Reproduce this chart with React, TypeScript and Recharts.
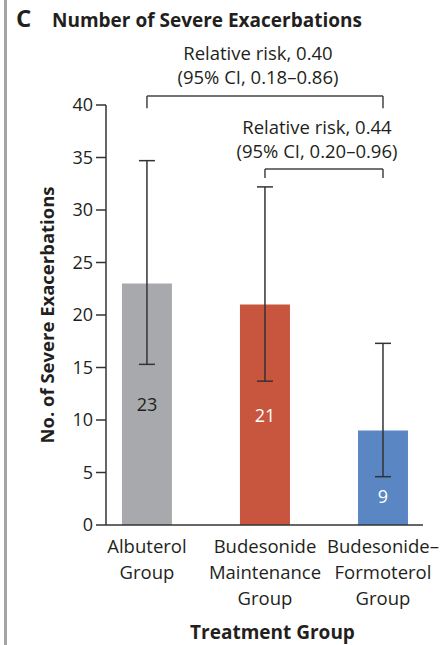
import {
	Bar,
	BarChart,
	Cell,
	ErrorBar,
	LabelList,
	ReferenceLine,
	XAxis,
	YAxis,
} from "recharts";

const groups = [
	["Albuterol", "Group"],
	["Budesonide", "Maintenance", "Group"],
	["Budesonide–", "Formoterol", "Group"],
];
const exacerbations = [23, 21, 9];
const ciLow = [15.3, 13.7, 4.6];
const ciHigh = [34.7, 32.2, 17.3];
const barColors = ["#a7a9ac", "#c8553d", "#5b86c4"];
const labelColors = ["#231f20", "#ffffff", "#ffffff"];
const yTicks = [0, 5, 10, 15, 20, 25, 30, 35, 40];

// comparison brackets: from group, to group, bar height, leg bottom, text
const brackets = [
	{ from: 0, to: 2, top: 40.86, leg: 39.7, text: ["Relative risk, 0.40", "(95% CI, 0.18–0.86)"] },
	{ from: 1, to: 2, top: 33.9, leg: 33.05, text: ["Relative risk, 0.44", "(95% CI, 0.20–0.96)"] },
];

const data = exacerbations.map((v, i) => ({
	idx: i,
	value: v,
	err: [v - ciLow[i], ciHigh[i] - v],
}));

const FONT = "'Open Sans', 'Noto Sans', sans-serif";
const INK = "#231f20";

function GroupTick(props: any) {
	const { x, y, payload } = props;
	const lines = groups[payload.value] || [];
	return (
		<g>
			{lines.map((l, k) => (
				<text
					key={k}
					x={x}
					y={y + 18 + k * 26}
					textAnchor="middle"
					dominantBaseline="central"
					fontSize={18.5}
					fontFamily={FONT}
					fill={INK}
				>
					{l}
				</text>
			))}
		</g>
	);
}

function BarValue(props: any) {
	const { x, y, width, height, index, value } = props;
	const bottom = y + height;
	const perUnit = height / value;
	const lowPx = bottom - ciLow[index] * perUnit;
	let cy = y + height / 2;
	if (lowPx > cy - 12) cy = (lowPx + bottom) / 2 - 5;
	return (
		<text
			x={x + width / 2}
			y={cy}
			textAnchor="middle"
			dominantBaseline="central"
			fontSize={18}
			fontFamily={FONT}
			fill={labelColors[index]}
		>
			{value}
		</text>
	);
}

function bracketLabel(lines: string[]) {
	return (props: any) => {
		const vb = props.viewBox || {};
		const cx = vb.x + vb.width / 2 - 7;
		return (
			<g>
				<text x={cx} y={vb.y - 43} textAnchor="middle" dominantBaseline="central" fontSize={18.5} fontFamily={FONT} fill={INK}>
					{lines[0]}
				</text>
				<text x={cx} y={vb.y - 19} textAnchor="middle" dominantBaseline="central" fontSize={18.5} fontFamily={FONT} fill={INK}>
					{lines[1]}
				</text>
			</g>
		);
	};
}

export default function App() {
	return (
		<div
			style={{
				position: "fixed",
				top: 0,
				left: 0,
				width: 441,
				height: 645,
				background: "#fff",
				fontFamily: FONT,
				color: INK,
			}}
		>
			<div style={{ position: "absolute", left: 4, top: 0, width: 3, height: 645, background: "#a3a3a3" }} />
			<div style={{ position: "absolute", left: 16, top: 3, fontSize: 24, fontWeight: 700, lineHeight: "30px" }}>C</div>
			<div style={{ position: "absolute", left: 52, top: 6, fontSize: 19, fontWeight: 700, lineHeight: "28px" }}>
				Number of Severe Exacerbations
			</div>
			<div style={{ position: "absolute", left: 0, top: 0 }}>
				<BarChart
					width={441}
					height={645}
					data={data}
					margin={{ top: 105, right: 18, bottom: 0, left: 0 }}
				>
					<XAxis
						type="number"
						dataKey="idx"
						domain={[-0.347, 2.339]}
						ticks={[0, 1, 2]}
						tick={<GroupTick />}
						tickLine={false}
						tickSize={0}
						height={120}
						axisLine={{ stroke: "#333", strokeWidth: 1.5 }}
						interval={0}
						label={(p: any) => {
							const vb = p.viewBox;
							return (
								<text
									x={vb.x + vb.width / 2 + 8}
									y={vb.y + 107}
									textAnchor="middle"
									dominantBaseline="central"
									fontSize={19}
									fontWeight={700}
									fontFamily={FONT}
									fill={INK}
								>
									Treatment Group
								</text>
							);
						}}
					/>
					<YAxis
						domain={[0, 40]}
						ticks={yTicks}
						width={106}
						tickSize={10}
						tickMargin={3}
						interval={0}
						axisLine={{ stroke: "#333", strokeWidth: 1.5 }}
						tickLine={{ stroke: "#333", strokeWidth: 1.5 }}
						tick={{ fontSize: 18, fontFamily: FONT, fill: INK }}
						label={(p: any) => {
							const vb = p.viewBox;
							const cy = vb.y + vb.height / 2;
							return (
								<text
									x={46}
									y={cy}
									transform={`rotate(-90, 46, ${cy})`}
									textAnchor="middle"
									dominantBaseline="central"
									fontSize={18.5}
									fontWeight={700}
									fontFamily={FONT}
									fill={INK}
								>
									No. of Severe Exacerbations
								</text>
							);
						}}
					/>
					<Bar dataKey="value" barSize={50} isAnimationActive={false}>
						{data.map((d, i) => (
							<Cell key={d.idx} fill={barColors[i]} />
						))}
						<ErrorBar dataKey="err" direction="y" width={8} stroke="#333" strokeWidth={1.5} />
						<LabelList dataKey="value" content={<BarValue />} />
					</Bar>
					{brackets.map((b, i) => (
						<ReferenceLine
							key={`h${i}`}
							segment={[
								{ x: b.from, y: b.top },
								{ x: b.to, y: b.top },
							]}
							stroke="#444"
							strokeWidth={1.5}
							ifOverflow="visible"
							label={bracketLabel(b.text)}
						/>
					))}
					{brackets.flatMap((b, i) =>
						[b.from, b.to].map((xv, k) => (
							<ReferenceLine
								key={`l${i}${k}`}
								segment={[
									{ x: xv, y: b.top },
									{ x: xv, y: b.leg },
								]}
								stroke="#444"
								strokeWidth={1.5}
								ifOverflow="visible"
							/>
						)),
					)}
				</BarChart>
			</div>
		</div>
	);
}
